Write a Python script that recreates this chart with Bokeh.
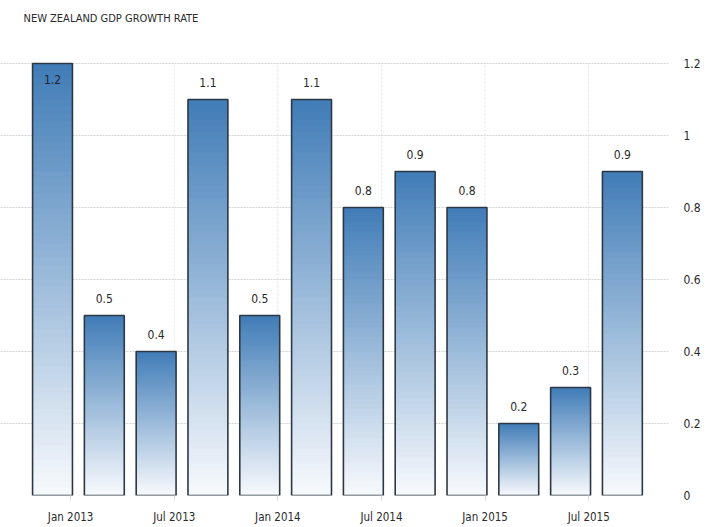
from bokeh.plotting import figure
from bokeh.models import ColumnDataSource, Range1d, FixedTicker, LabelSet, Label
from bokeh.core.properties import value
from bokeh.embed import file_html
from bokeh.resources import INLINE

# ---- data ----
quarters = ["Q4 2012", "Q1 2013", "Q2 2013", "Q3 2013", "Q4 2013", "Q1 2014",
            "Q2 2014", "Q3 2014", "Q4 2014", "Q1 2015", "Q2 2015", "Q3 2015"]
growth = [1.2, 0.5, 0.4, 1.1, 0.5, 1.1, 0.8, 0.9, 0.8, 0.2, 0.3, 0.9]
tick_labels = ["Jan 2013", "Jul 2013", "Jan 2014", "Jul 2014", "Jan 2015", "Jul 2015"]
tick_after_quarter = ["Q4 2012", "Q2 2013", "Q4 2013", "Q2 2014", "Q4 2014", "Q2 2015"]
y_ticks = [0, 0.2, 0.4, 0.6, 0.8, 1.0, 1.2]
y_tick_labels = ["0", "0.2", "0.4", "0.6", "0.8", "1", "1.2"]
title = "NEW ZEALAND GDP GROWTH RATE"

FONT = "DejaVu Sans Condensed"
FRAME_H = 495          # frame spans from the very top down to the zero line
TOP_PAD = 63           # pixels above the top gridline reserved for the title
xs = list(range(len(quarters)))
tick_pos = [quarters.index(q) + 0.35 for q in tick_after_quarter]
y_top = y_ticks[-1] * FRAME_H / (FRAME_H - TOP_PAD)

p = figure(width=716, height=525, frame_width=668, frame_height=FRAME_H,
           min_border_left=0, min_border_right=48, min_border_top=0, min_border_bottom=30,
           x_range=Range1d(-1.004, 11.89), y_range=Range1d(0, y_top),
           y_axis_location="right", output_backend="svg", toolbar_location=None,
           background_fill_color="white", border_fill_color="white")
p.outline_line_color = None

p.add_layout(Label(x=23, y=FRAME_H - 18, x_units="screen", y_units="screen", text=title,
                   text_font=FONT, text_font_size="11px", text_color="#2a2a2a",
                   text_baseline="middle", text_align="left"))

# vertical dotted gridlines at the date ticks (only up to the top gridline)
p.segment(x0=tick_pos, y0=[0] * len(tick_pos), x1=tick_pos, y1=[y_ticks[-1]] * len(tick_pos),
          line_color="#e3e3e3", line_dash="2 2", line_width=1)

# gradient bars
N = 60
top_c = (64, 124, 183)
bot_c = (248, 250, 253)
L, R, B, T, C = [], [], [], [], []
for x, v in zip(xs, growth):
    for k in range(N):
        f = (k + 0.5) / N
        col = tuple(int(round(bot_c[i] + (top_c[i] - bot_c[i]) * f)) for i in range(3))
        L.append(x - 0.385); R.append(x + 0.385)
        B.append(v * k / N); T.append(min(v, v * (k + 1.6) / N))
        C.append("#%02x%02x%02x" % col)
p.quad(left=L, right=R, bottom=B, top=T, fill_color=C, line_color=None)

src = ColumnDataSource(dict(x=xs, v=growth, l=[x - 0.385 for x in xs], r=[x + 0.385 for x in xs]))
p.quad(left="l", right="r", bottom=0, top="v", source=src, fill_color=None,
       line_color="#2c3844", line_width=1.6)

vmax = max(growth)
out_idx = [i for i, v in enumerate(growth) if v < vmax]
in_idx = [i for i, v in enumerate(growth) if v >= vmax]
src_out = ColumnDataSource(dict(x=[xs[i] for i in out_idx], v=[growth[i] for i in out_idx],
                                lab=["%g" % growth[i] for i in out_idx]))
src_in = ColumnDataSource(dict(x=[xs[i] for i in in_idx], v=[growth[i] for i in in_idx],
                               lab=["%g" % growth[i] for i in in_idx]))
p.add_layout(LabelSet(x="x", y="v", text="lab", source=src_out, text_align="center",
                      text_baseline="bottom", y_offset=13, text_font=value(FONT),
                      text_font_size="12px", text_color="#2a2a2a"))
p.add_layout(LabelSet(x="x", y="v", text="lab", source=src_in, text_align="center",
                      text_baseline="top", y_offset=-11, text_font=value(FONT),
                      text_font_size="12px", text_color="#1c2430"))

# axes
p.xaxis.ticker = FixedTicker(ticks=tick_pos)
p.xaxis.major_label_overrides = {t: l for t, l in zip(tick_pos, tick_labels)}
p.xaxis.axis_line_color = None
p.xaxis.major_tick_line_color = "#d8d8d8"
p.xaxis.major_tick_in = 0
p.xaxis.major_tick_out = 5
p.xaxis.major_label_standoff = 9
p.xaxis.major_label_text_font = FONT
p.xaxis.major_label_text_font_size = "11.5px"
p.xaxis.major_label_text_color = "#2a2a2a"

p.yaxis.ticker = FixedTicker(ticks=y_ticks)
p.yaxis.major_label_overrides = {t: l for t, l in zip(y_ticks, y_tick_labels)}
p.yaxis.axis_line_color = None
p.yaxis.major_tick_line_color = None
p.yaxis.minor_tick_line_color = None
p.yaxis.major_label_standoff = 9
p.yaxis.major_label_text_font = FONT
p.yaxis.major_label_text_font_size = "12px"
p.yaxis.major_label_text_color = "#2a2a2a"

p.xgrid.grid_line_color = None
p.ygrid.ticker = FixedTicker(ticks=y_ticks)
p.ygrid.grid_line_color = "#d4d4d4"
p.ygrid.grid_line_dash = "2 1"

open("out.html", "w").write(file_html(p, INLINE))
